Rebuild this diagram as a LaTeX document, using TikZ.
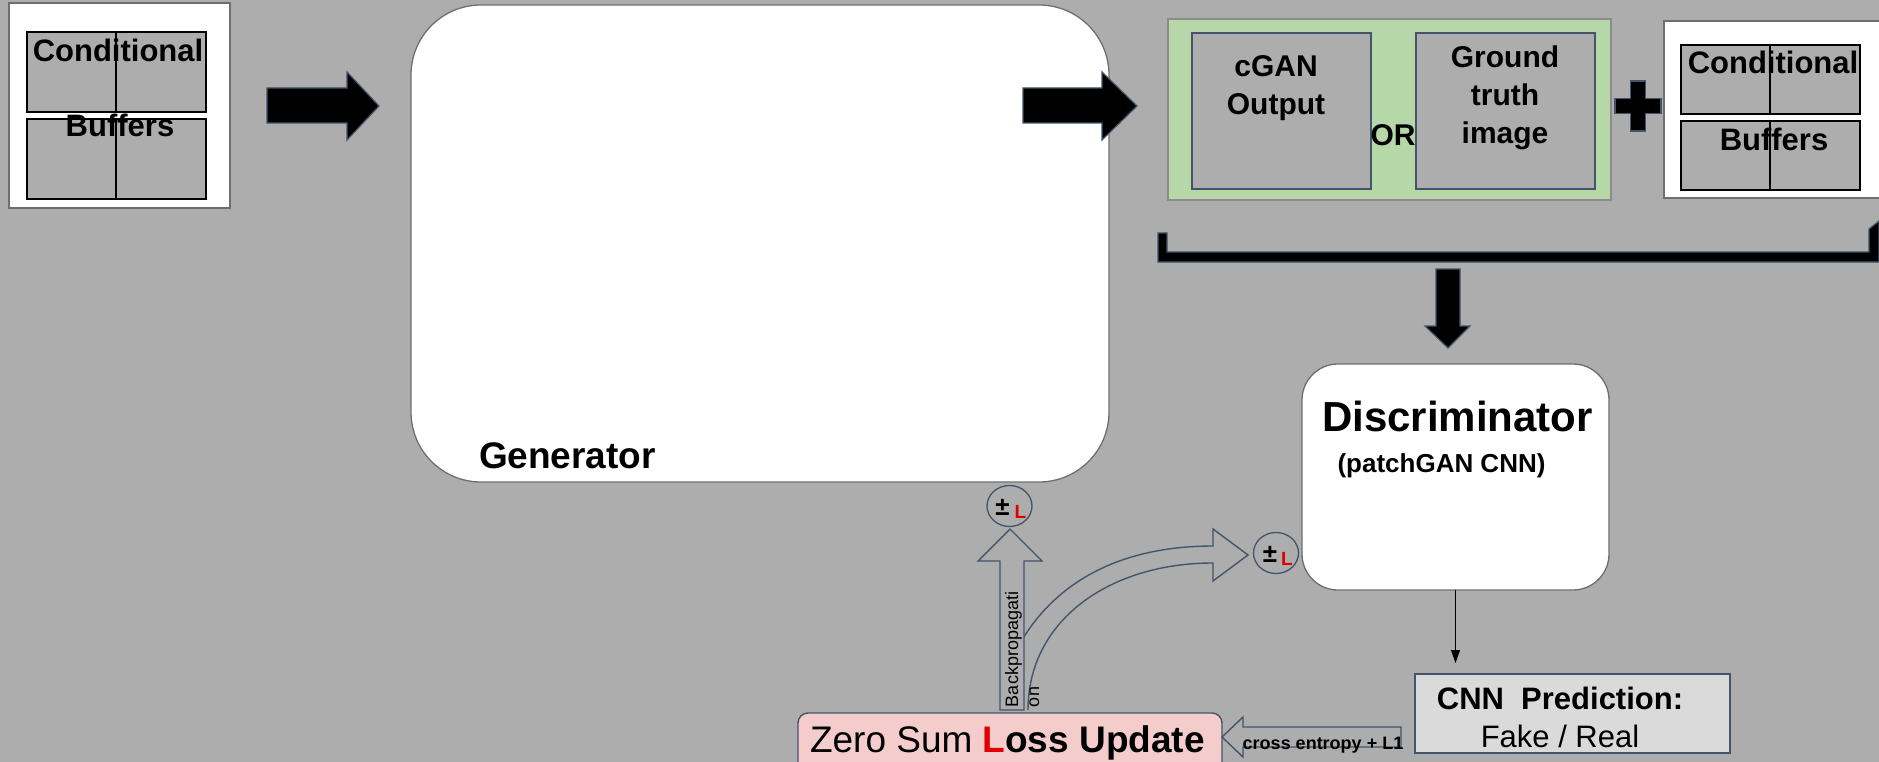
\documentclass[tikz,border=0pt]{standalone}
\usepackage{fontspec}
\setmainfont{Liberation Sans}
\usetikzlibrary{arrows.meta,shapes.geometric,fit}
\definecolor{bggray}{HTML}{ADADAD}
\definecolor{slate}{HTML}{44546A}
\definecolor{greenfill}{HTML}{B6D7A8}
\definecolor{pinkfill}{HTML}{F4CCCC}
\definecolor{predfill}{HTML}{DADADA}
\definecolor{boxline}{HTML}{6E6E6E}
\definecolor{lossred}{HTML}{E00000}
\newcommand\fsz[2]{\fontsize{#1}{#2}\selectfont}
\begin{document}
\begin{tikzpicture}[x=1pt,y=-1pt,
  lbl/.style={inner sep=0pt, outer sep=0pt, anchor=base, text=black},
  region/.style={inner sep=0pt, outer sep=0pt},
  cell/.style={region, draw=black, line width=1.8pt, fill=bggray},
  whitebox/.style={region, draw=boxline, line width=1.3pt, fill=white},
  imgbox/.style={region, draw=slate, line width=1.3pt, fill=bggray},
  blockarrow/.style={fill=black, draw=slate, line width=1.2pt, line join=miter},
  hollowarrow/.style={fill=bggray, draw=slate, line width=1.4pt, line join=miter},
  pmcircle/.style={ellipse, draw=slate, line width=1.3pt, inner sep=0pt, minimum width=45pt, minimum height=41pt},
  bufText/.style={lbl, font=\fsz{31}{36}\bfseries},
  imgText/.style={lbl, font=\fsz{30}{36}\bfseries},
]
\useasboundingbox (0,0) rectangle (1879,762);
\fill[bggray] (0,0) rectangle (1879,762);

% ---------- left conditional buffers ----------
\node[whitebox, fit={(9,3) (230,208)}] (condL) {};
\node[cell, fit={(27,32) (116,112)}] (lc1) {};
\node[cell, fit={(116,32) (206,112)}] (lc2) {};
\node[cell, fit={(27,119) (116,199)}] (lc3) {};
\node[cell, fit={(116,119) (206,199)}] (lc4) {};
\node[bufText] (condLt1) at (118,62) {Conditional};
\node[bufText] (condLt2) at (120,137) {Buffers};

% arrow into generator
\draw[blockarrow] (267,88) -- (347,88) -- (347,72) -- (379,106) -- (347,140) -- (347,123) -- (267,123) -- cycle;

% ---------- generator ----------
\node[region, draw=boxline, line width=1.3pt, fill=white, rounded corners=70pt, fit={(411,5) (1109,482)}] (gen) {};
\node[lbl, anchor=base west, font=\fsz{37}{40}\bfseries] (gent) at (479,468) {Generator};

% arrow out of generator
\draw[blockarrow] (1023,88) -- (1102,88) -- (1102,72) -- (1137,106) -- (1102,140) -- (1102,123) -- (1023,123) -- cycle;

% ---------- green output box ----------
\node[region, draw=boxline!80, line width=1.5pt, fill=greenfill, fit={(1168,19) (1611,200)}] (green) {};
\node[imgbox, fit={(1192,33) (1371,189)}] (cgan) {};
\node[imgbox, fit={(1416,33) (1595,189)}] (gt) {};
\node[imgText] (cgant1) at (1276,77) {cGAN};
\node[imgText] (cgant2) at (1276,115) {Output};
\node[imgText] (gtt1) at (1505,68) {Ground};
\node[imgText] (gtt2) at (1505,106) {truth};
\node[imgText] (gtt3) at (1505,144) {image};
\node[imgText] (ort) at (1393,146) {OR};

% plus sign
\draw[blockarrow] (1630.5,81) -- (1645.5,81) -- (1645.5,98.5) -- (1661,98.5) -- (1661,113.5) -- (1645.5,113.5) -- (1645.5,131) -- (1630.5,131) -- (1630.5,113.5) -- (1615,113.5) -- (1615,98.5) -- (1630.5,98.5) -- cycle;

% ---------- right conditional buffers ----------
\node[whitebox, fit={(1664,21) (1890,198)}] (condR) {};
\node[cell, fit={(1681,45) (1770,114)}] (rc1) {};
\node[cell, fit={(1770,45) (1860,114)}] (rc2) {};
\node[cell, fit={(1681,121) (1770,190)}] (rc3) {};
\node[cell, fit={(1770,121) (1860,190)}] (rc4) {};
\node[bufText] (condRt1) at (1773,74) {Conditional};
\node[bufText] (condRt2) at (1774,151) {Buffers};

% bracket
\draw[blockarrow] (1158,233) -- (1167,233) -- (1167,252) -- (1869,252) -- (1869,229) -- (1879,221) -- (1879,262) -- (1158,262) -- cycle;

% down arrow
\draw[blockarrow] (1436,269) -- (1460,269) -- (1460,326) -- (1470,326) -- (1448,348) -- (1425,326) -- (1436,326) -- cycle;

% ---------- discriminator ----------
\node[region, draw=boxline, line width=1.3pt, fill=white, rounded corners=36pt, fit={(1302,364) (1609,590)}] (disc) {};
\node[lbl, font=\fsz{42}{46}\bfseries] (disct1) at (1457.5,431) {Discriminator};
\node[lbl, font=\fsz{26}{30}\bfseries] (disct2) at (1441.5,472) {(patchGAN CNN)};

% ---------- CNN prediction ----------
\node[region, draw=slate, line width=1.3pt, fill=predfill, fit={(1415,674) (1730,753)}] (pred) {};
\node[lbl, font=\fsz{31}{34}\bfseries] (predt1) at (1560,709) {CNN~~Prediction:};
\node[lbl, font=\fsz{31}{34}] (predt2) at (1560,747) {Fake / Real};

\draw[line width=1.2pt, -{Triangle[length=13pt,width=9pt]}, shorten >=11pt] (disc.south) -- (disc.south |- pred.north);

% ---------- zero sum loss update ----------
\node[region, draw=slate, line width=1.4pt, fill=pinkfill, rounded corners=10pt, fit={(798,713) (1222,780)}] (loss) {};
\node[lbl, anchor=base west, font=\fsz{37}{40}] (losst) at (810,752) {Zero Sum {\bfseries\color{lossred}L}{\bfseries oss Update}};

% hollow arrow prediction -> loss
\coordinate (predtail) at (1401,737);
\draw[hollowarrow] (predtail |- 0,727) -- (1243,727) -- (1243,717) -- (loss.east |- 0,737) -- (1243,757) -- (1243,747) -- (predtail |- 0,747) -- cycle;
\node[lbl, font=\fsz{18}{20}\bfseries] (cet) at (1323,749) {cross entropy + L1};

% curved hollow arrow loss -> discriminator side
\draw[hollowarrow, fill=none] (1028,710) .. controls (1028,620) and (1110,563) .. (1213,563) -- (1213,581) -- (1248,555) -- (1213,529) -- (1213,546) .. controls (1110,546) and (1052,590) .. (1022,640);

% straight hollow arrow loss -> generator
\draw[hollowarrow] (1000,710) -- (1000,561) -- (978,561) -- (1010,529) -- (1042,561) -- (1024,561) -- (1024,710) -- cycle;
\node[lbl, anchor=base west, rotate=90, font=\fsz{18}{21}] (bpt1) at (1018,707) {Backpropagati};
\node[lbl, anchor=base west, rotate=90, font=\fsz{18}{21}] (bpt2) at (1039,707) {on};

% plus-minus circles
\node[pmcircle] (pm1) at (1009.5,506) {};
\node[lbl, font=\fsz{26}{28}\bfseries] (pm1a) at (1002.5,515) {±};
\node[lbl, font=\fsz{19}{20}\bfseries, text=lossred] (pm1b) at (1020.5,518) {L};

\node[pmcircle] (pm2) at (1276,553) {};
\node[lbl, font=\fsz{26}{28}\bfseries] (pm2a) at (1270,562) {±};
\node[lbl, font=\fsz{19}{20}\bfseries, text=lossred] (pm2b) at (1287,565) {L};
\end{tikzpicture}
\end{document}
